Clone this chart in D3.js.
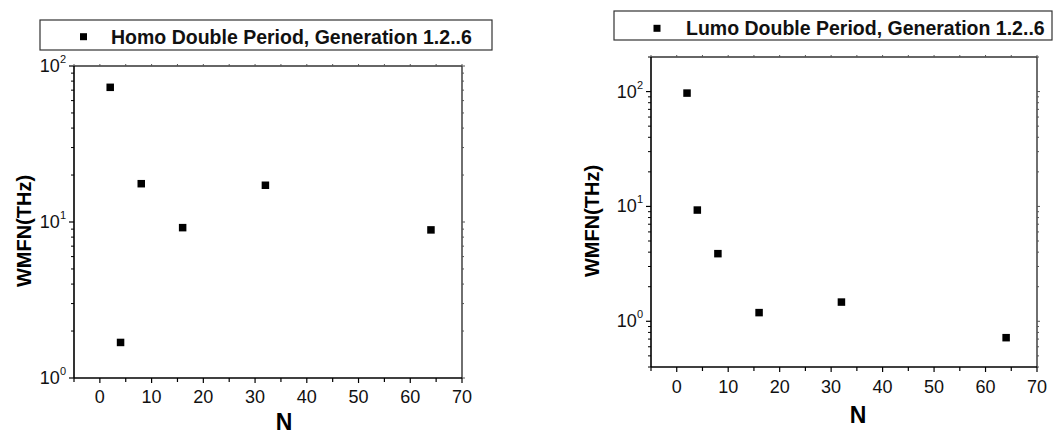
<!DOCTYPE html>
<html>
<head>
<meta charset="utf-8">
<script src="https://cdn.jsdelivr.net/npm/d3@7"></script>
<style>
  body { margin: 0; background: #fff; }
  svg { display: block; font-family: Arial, "Liberation Sans", sans-serif; }
</style>
</head>
<body>
<svg id="scene" width="1054" height="435"></svg>
<script>
// ---------- data ----------
const nValues = [2, 4, 8, 16, 32, 64];
const homoWMFN = [73, 1.69, 17.6, 9.2, 17.2, 8.9];
const lumoWMFN = [97, 9.3, 3.88, 1.19, 1.47, 0.72];
const xTicks = [0, 10, 20, 30, 40, 50, 60, 70];
const homoLegend = 'Homo Double Period, Generation 1.2..6';
const lumoLegend = 'Lumo Double Period, Generation 1.2..6';

// ---------- layout ----------
const panels = [
  {
    values: homoWMFN, legend: homoLegend,
    frame: { x0: 74, x1: 462, y0: 66, y1: 378 },
    yDomain: [1, 100], yExp: [0, 1, 2],
    legendBox: { x: 40, y: 20, w: 452, h: 30 },
    legendMark: { x: 83.5, y: 36.7 }, legendText: { x: 111, y: 43.5 },
    yLabel: { x: 31, y: 231 }, xLabel: { x: 284, y: 430 }, tickY: 403
  },
  {
    values: lumoWMFN, legend: lumoLegend,
    frame: { x0: 651, x1: 1037, y0: 57, y1: 367 },
    yDomain: [0.4, 200], yExp: [0, 1, 2],
    legendBox: { x: 614, y: 11, w: 438, h: 29 },
    legendMark: { x: 657, y: 28.3 }, legendText: { x: 686, y: 34.5 },
    yLabel: { x: 599, y: 221 }, xLabel: { x: 858, y: 423 }, tickY: 393
  }
];

const svg = d3.select('#scene');

function drawPanel(p) {
  const f = p.frame;
  const x = d3.scaleLinear().domain([-5, 70]).range([f.x0, f.x1]);
  const y = d3.scaleLog().domain(p.yDomain).range([f.y1, f.y0]);
  const g = svg.append('g');

  // frame (top / right lighter)
  g.append('line').attr('x1', f.x0).attr('x2', f.x1).attr('y1', f.y0).attr('y2', f.y0)
    .attr('stroke', '#333').attr('stroke-width', 1.4);
  g.append('line').attr('x1', f.x1).attr('x2', f.x1).attr('y1', f.y0).attr('y2', f.y1)
    .attr('stroke', '#333').attr('stroke-width', 1.4);

  // minor y ticks (log)
  const minors = [];
  const lo = Math.floor(Math.log10(p.yDomain[0])), hi = Math.ceil(Math.log10(p.yDomain[1]));
  for (let e = lo; e <= hi; e++) {
    for (let m = 2; m <= 9; m++) {
      const v = m * Math.pow(10, e);
      if (v >= p.yDomain[0] * 0.999 && v <= p.yDomain[1] * 1.001) minors.push(v);
    }
  }
  g.selectAll('line.ymin').data(minors).join('line').attr('class', 'ymin')
    .attr('x1', f.x0 - 3).attr('x2', f.x0).attr('y1', d => y(d)).attr('y2', d => y(d))
    .attr('stroke', '#000').attr('stroke-width', 1);
  g.selectAll('line.ymin2').data(minors).join('line').attr('class', 'ymin2')
    .attr('x1', f.x1).attr('x2', f.x1 + 2).attr('y1', d => y(d)).attr('y2', d => y(d))
    .attr('stroke', '#555').attr('stroke-width', 1);

  const majors = p.yExp.map(e => Math.pow(10, e));
  g.selectAll('line.ymaj').data(majors).join('line').attr('class', 'ymaj')
    .attr('x1', f.x0 - 5).attr('x2', f.x0).attr('y1', d => y(d)).attr('y2', d => y(d))
    .attr('stroke', '#000').attr('stroke-width', 1.2);
  g.selectAll('line.ymaj2').data(majors).join('line').attr('class', 'ymaj2')
    .attr('x1', f.x1).attr('x2', f.x1 + 3).attr('y1', d => y(d)).attr('y2', d => y(d))
    .attr('stroke', '#555').attr('stroke-width', 1);

  // y tick labels 10^n
  const lab = g.selectAll('text.ylab').data(p.yExp).join('text').attr('class', 'ylab')
    .attr('x', f.x0 - 8).attr('y', d => y(Math.pow(10, d)) + 6)
    .attr('text-anchor', 'end').attr('font-size', 18).attr('fill', '#111');
  lab.append('tspan').text('10');
  lab.append('tspan').attr('font-size', 11).attr('dy', -9).text(d => d);

  // x ticks
  const xAll = d3.range(-5, 71, 5);
  g.selectAll('line.xt').data(xAll).join('line').attr('class', 'xt')
    .attr('x1', d => x(d)).attr('x2', d => x(d))
    .attr('y1', f.y1).attr('y2', d => f.y1 + (d % 10 === 0 ? 5 : 4))
    .attr('stroke', '#000').attr('stroke-width', 1.2);
  g.selectAll('line.xt2').data(xAll).join('line').attr('class', 'xt2')
    .attr('x1', d => x(d)).attr('x2', d => x(d))
    .attr('y1', f.y0).attr('y2', f.y0 - 2)
    .attr('stroke', '#555').attr('stroke-width', 1);
  g.selectAll('text.xlab').data(xTicks).join('text').attr('class', 'xlab')
    .attr('x', d => x(d)).attr('y', p.tickY)
    .attr('text-anchor', 'middle').attr('font-size', 18).attr('fill', '#111')
    .text(d => d);

  // main axes
  g.append('line').attr('x1', f.x0).attr('x2', f.x1).attr('y1', f.y1).attr('y2', f.y1)
    .attr('stroke', '#000').attr('stroke-width', 1.6);
  g.append('line').attr('x1', f.x0).attr('x2', f.x0).attr('y1', f.y0).attr('y2', f.y1)
    .attr('stroke', '#000').attr('stroke-width', 1.6);

  // axis titles
  g.append('text').attr('x', p.xLabel.x).attr('y', p.xLabel.y)
    .attr('text-anchor', 'middle').attr('font-size', 23).attr('font-weight', 'bold')
    .text('N');
  g.append('text')
    .attr('transform', `translate(${p.yLabel.x},${p.yLabel.y}) rotate(-90)`)
    .attr('text-anchor', 'middle').attr('font-size', 20).attr('font-weight', 'bold')
    .text('WMFN(THz)');

  // points
  const s = 7.5;
  g.selectAll('rect.pt').data(nValues).join('rect').attr('class', 'pt')
    .attr('x', d => x(d) - s / 2)
    .attr('y', (d, i) => y(p.values[i]) - s / 2)
    .attr('width', s).attr('height', s).attr('fill', '#000');

  // legend
  const lb = p.legendBox;
  g.append('rect').attr('x', lb.x).attr('y', lb.y).attr('width', lb.w).attr('height', lb.h)
    .attr('fill', '#fff').attr('stroke', '#333').attr('stroke-width', 1.2);
  g.append('rect').attr('x', p.legendMark.x - 3.5).attr('y', p.legendMark.y - 3.5)
    .attr('width', 7).attr('height', 7).attr('fill', '#000');
  g.append('text').attr('x', p.legendText.x).attr('y', p.legendText.y)
    .attr('font-size', 19.5).attr('font-weight', 'bold').attr('fill', '#111')
    .text(p.legend);
}

panels.forEach(drawPanel);
</script>
</body>
</html>
